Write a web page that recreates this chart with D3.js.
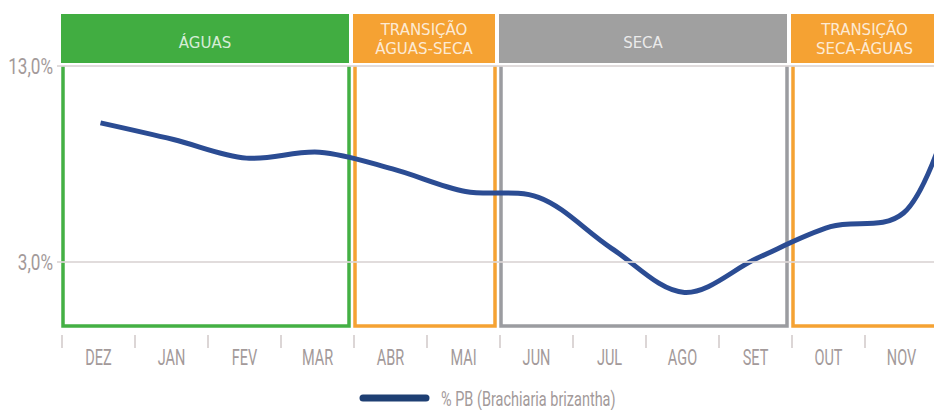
<!DOCTYPE html>
<html>
<head>
<meta charset="utf-8">
<script src="https://cdn.jsdelivr.net/npm/d3@7"></script>
<style>
	body { margin: 0; background: #fff; }
	svg { display: block; }
</style>
</head>
<body>
<div id="chart"></div>
<script>
/* months shown on the axis (last one continues past the edge) */
const months = ["DEZ", "JAN", "FEV", "MAR", "ABR", "MAI", "JUN", "JUL", "AGO", "SET", "OUT", "NOV", "DEZ"];
/* % PB (Brachiaria brizantha), one value per month */
const pbValues = [10.1, 9.25, 8.3, 8.6, 7.75, 6.6, 6.3, 3.7, 1.45, 3.2, 4.8, 5.5, 15.4];
/* seasons: first month index and month index after the last */
const phaseNames = [["ÁGUAS"], ["TRANSIÇÃO", "ÁGUAS-SECA"], ["SECA"], ["TRANSIÇÃO", "SECA-ÁGUAS"]];
const phaseStart = [0, 4, 6, 10];
const phaseEnd = [4, 6, 10, 13];
const phaseColors = ["#41ad41", "#f5a233", "#a0a0a0", "#f5a233"];
const frameColors = ["#44b044", "#f5a233", "#9b9ca0", "#f5a233"];
/* y axis ticks */
const yTicks = [3, 13];
const legendLabel = "% PB (Brachiaria brizantha)";

const width = 934, height = 410;
const labelFont = "Roboto, 'DejaVu Sans', sans-serif";
const textGray = "#a39a9a";

const svg = d3.select("#chart").append("svg")
	.attr("width", width)
	.attr("height", height);

const x = d3.scaleBand()
	.domain(d3.range(months.length))
	.range([62, 62 + 73 * months.length]);

// month boundary position (also for the index past the last month)
const edge = i => x.range()[0] + i * x.step();
const mid = i => x(i) + x.bandwidth() / 2;

const y = d3.scaleLinear()
	.domain([3, 13])
	.range([262, 66]);

const headTop = 14, headBottom = 63, frameBottom = 326;

/* narrow tall text: squeeze a normal font horizontally */
function narrowText(g, px, py, str, { size = 22, sx = 0.66, anchor = "middle" } = {}) {
	return g.append("text")
		.attr("transform", `translate(${px},${py}) scale(${sx},1)`)
		.attr("text-anchor", anchor)
		.attr("font-family", labelFont)
		.attr("font-size", size + "px")
		.attr("fill", textGray)
		.text(str);
}

// season frames (sides and bottom)
phaseStart.forEach((s, i) => {
	const x0 = edge(s) + 1;
	const x1 = edge(phaseEnd[i]) - 5;
	svg.append("path")
		.attr("d", `M${x0},${headBottom + 3}V${frameBottom}H${x1}V${headBottom + 3}`)
		.attr("fill", "none")
		.attr("stroke", frameColors[i])
		.attr("stroke-width", 3.5);
});

// value line
const line = d3.line()
	.x((d, i) => mid(i) + 2)
	.y(d => y(d))
	.curve(d3.curveCatmullRom.alpha(0.5));

svg.append("path")
	.datum(pbValues)
	.attr("d", line)
	.attr("fill", "none")
	.attr("stroke", "#2b4c93")
	.attr("stroke-width", 5);

// grid lines on top, light
svg.selectAll(".grid")
	.data(yTicks)
	.join("line")
	.attr("class", "grid")
	.attr("x1", 57)
	.attr("x2", width)
	.attr("y1", d => y(d))
	.attr("y2", d => y(d))
	.attr("stroke", "#dcd6d6")
	.attr("stroke-opacity", 0.85)
	.attr("stroke-width", 2);

yTicks.forEach(d => {
	narrowText(svg, 53, y(d) + 8, d.toFixed(1).replace(".", ",") + "%", { size: 22, sx: 0.78, anchor: "end" });
});

// season headers
phaseStart.forEach((s, i) => {
	const x0 = edge(s) - 1;
	const x1 = edge(phaseEnd[i]) - 5;
	svg.append("rect")
		.attr("x", x0)
		.attr("y", headTop)
		.attr("width", x1 - x0)
		.attr("height", headBottom - headTop)
		.attr("fill", phaseColors[i]);

	const lines = phaseNames[i];
	// the last header is cut by the picture edge: centre it on the visible part
	const cx = (x0 + Math.min(x1, width + 4)) / 2;
	const t = svg.append("text")
		.attr("text-anchor", "middle")
		.attr("font-family", "'DejaVu Sans', sans-serif")
		.attr("font-size", "15px")
		.attr("fill", "#ffffff")
		.attr("fill-opacity", 0.8);
	lines.forEach((l, j) => {
		t.append("tspan")
			.attr("x", cx)
			.attr("y", lines.length > 1 ? 35 + j * 19 : 48)
			.text(l);
	});
});

// x axis ticks and labels
svg.selectAll(".xtick")
	.data(d3.range(months.length + 1).filter(i => edge(i) < width))
	.join("line")
	.attr("class", "xtick")
	.attr("x1", d => edge(d))
	.attr("x2", d => edge(d))
	.attr("y1", 335)
	.attr("y2", 348)
	.attr("stroke", "#dcd6d6")
	.attr("stroke-width", 2);

months.forEach((m, i) => {
	if (mid(i) < width) narrowText(svg, mid(i), 365, m);
});

// legend
svg.append("line")
	.attr("x1", 363)
	.attr("x2", 426)
	.attr("y1", 398)
	.attr("y2", 398)
	.attr("stroke", "#1e3f73")
	.attr("stroke-width", 7)
	.attr("stroke-linecap", "round");

narrowText(svg, 441, 406, legendLabel, { size: 21, sx: 0.69, anchor: "start" });
</script>
</body>
</html>
